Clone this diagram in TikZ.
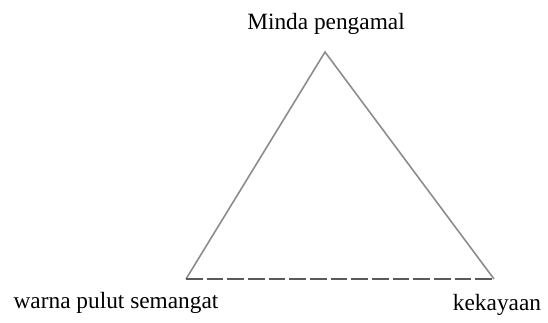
\documentclass[tikz,border=0pt]{standalone}
\usepackage{fontspec}
\setmainfont{Liberation Serif}
\usetikzlibrary{positioning}
\definecolor{sidegray}{HTML}{8C8C8C}
\definecolor{basegray}{HTML}{5A5A5A}

\begin{document}
\begin{tikzpicture}[
  x=0.75pt,y=-0.75pt,
  line cap=butt,line join=miter,
  corner/.style={inner sep=0pt,minimum size=0pt},
  caption/.style={font=\fontsize{17.5}{20}\selectfont,inner sep=0pt,anchor=base,text=black},
  side/.style={draw=sidegray,line width=1.2pt},
  basis/.style={draw=basegray,line width=1.3pt,dash pattern=on 12.5pt off 3pt}
]
\useasboundingbox (0,0) rectangle (548,322);
% corners of the triangle
\node[corner] (apex) at (325,52) {};
\node[corner] (left) at (186,279) {};
\node[corner] (right) at (494,279) {};
% labels
\node[caption] (mind) at (326,29) {Minda pengamal};
\node[caption] (pulut) at (116,308) {warna pulut semangat};
\node[caption] (wealth) at (497,310) {kekayaan};
% edges
\draw[side] (left.center) -- (apex.center) -- (right.center);
\draw[basis] (left.center) -- (right.center);
\end{tikzpicture}
\end{document}
